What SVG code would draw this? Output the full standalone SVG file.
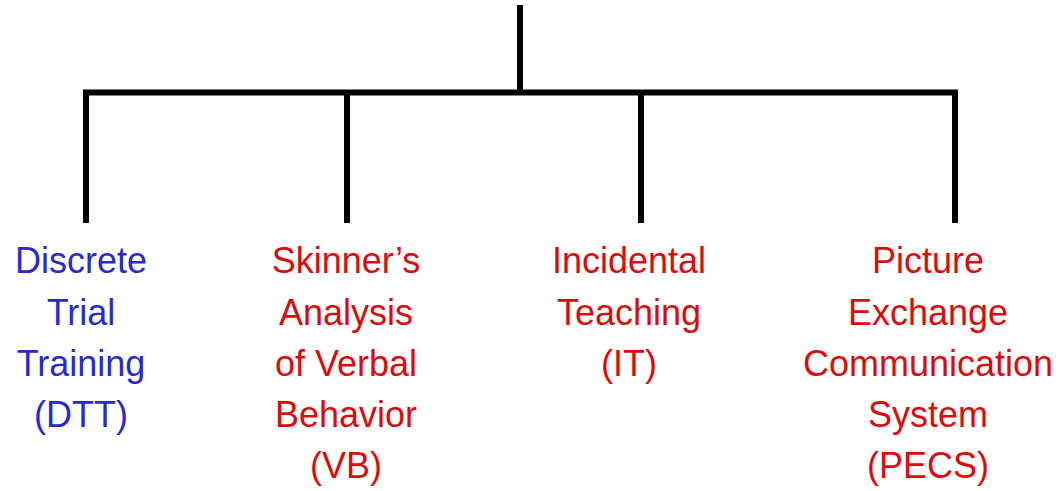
<svg xmlns="http://www.w3.org/2000/svg" width="1062" height="491" viewBox="0 0 1062 491">
<style>
.ln{stroke:#000;stroke-width:6;fill:none;stroke-linecap:butt;stroke-linejoin:miter}
.t{font-family:"Liberation Sans",Arial,sans-serif;font-size:36px;text-anchor:middle}
.blue{fill:#2a2acc}
.red{fill:#dd0a0a}
</style>
<rect width="1062" height="491" fill="#fff"/>
<g id="connectors">
<path class="ln" d="M520 5V92.5"/>
<path class="ln" d="M86 223V92.5H955V223"/>
<path class="ln" d="M347 92.5V223"/>
<path class="ln" d="M641 92.5V223"/>
</g>
<g id="node-dtt">
<text class="t blue" x="81" y="273">Discrete</text>
<text class="t blue" x="81" y="324.5">Trial</text>
<text class="t blue" x="81" y="376">Training</text>
<text class="t blue" x="81" y="427">(DTT)</text>
</g>
<g id="node-vb">
<text class="t red" x="346" y="273">Skinner’s</text>
<text class="t red" x="346" y="324.5">Analysis</text>
<text class="t red" x="346" y="376">of Verbal</text>
<text class="t red" x="346" y="427">Behavior</text>
<text class="t red" x="346" y="478">(VB)</text>
</g>
<g id="node-it">
<text class="t red" x="629" y="273">Incidental</text>
<text class="t red" x="629" y="324.5">Teaching</text>
<text class="t red" x="629" y="376">(IT)</text>
</g>
<g id="node-pecs">
<text class="t red" x="928" y="273">Picture</text>
<text class="t red" x="928" y="324.5">Exchange</text>
<text class="t red" x="928" y="376">Communication</text>
<text class="t red" x="928" y="427">System</text>
<text class="t red" x="928" y="478">(PECS)</text>
</g>
</svg>
